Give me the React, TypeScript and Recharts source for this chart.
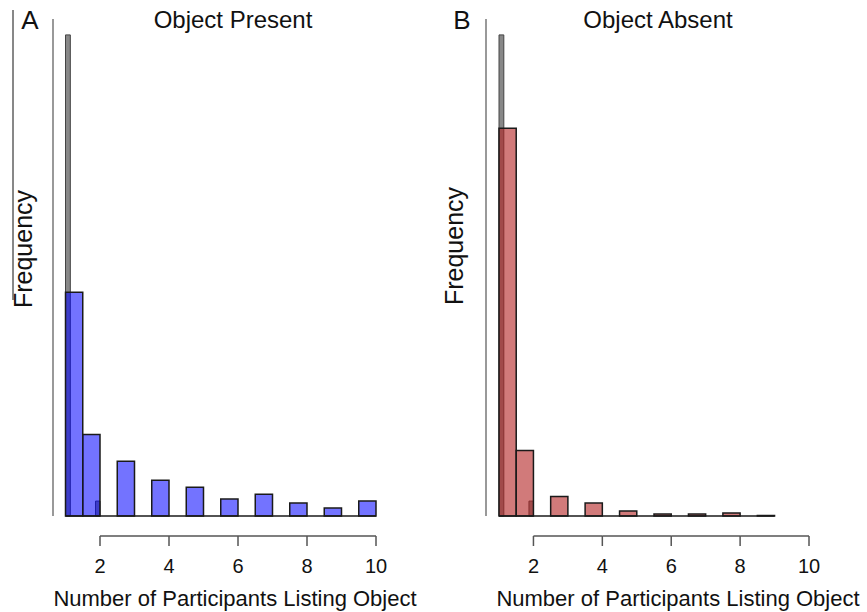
import { ComposedChart, XAxis, YAxis, ReferenceArea, ReferenceLine, Scatter } from 'recharts'

// x = number of participants listing object, y = frequency (no scale printed)
const xTicks = [2, 4, 6, 8, 10]
const yTicks = [0, 100, 200, 300, 400, 500]

// A: object present (blue)
const presentLower = [1, 1.5, 2.5, 3.5, 4.5, 5.5, 6.5, 7.5, 8.5, 9.5]
const presentUpper = [1.5, 2, 3, 4, 5, 6, 7, 8, 9, 10]
const presentFreq = [225, 82, 55, 36, 29, 17, 22, 13, 8, 15]
const presentRange = [1, 10]

// B: object absent (red)
const absentLower = [1, 1.5, 2.5, 3.5, 4.5, 5.5, 6.5, 7.5, 8.5]
const absentUpper = [1.5, 2, 3, 4, 5, 6, 7, 8, 9]
const absentFreq = [390, 66, 19.5, 13, 5, 2, 2, 3, 0.5]
const absentRange = [1, 9]

// thin grey bars drawn under both histograms
const greyLower = [1, 1.87]
const greyUpper = [1.14, 2]
const greyFreq = [484, 15]

const FONT = '"Liberation Sans", Arial, sans-serif'
const CHART_W = 433
const CHART_H = 612
const Y_W = 53
const MARGIN_R = 57
const PLOT_W = CHART_W - Y_W - MARGIN_R

interface PanelProps {
  left: number
  pad: number
  lower: number[]
  upper: number[]
  freq: number[]
  range: number[]
  fill: string
  fillOpacity: number
}

// R-style axis: line only between first and last tick, ticks pointing down
function XTick(props: any) {
  const { x, y, index, unit } = props
  const step = unit * 2
  return (
    <g>
      {index > 0 && <line x1={x - step} y1={y} x2={x} y2={y} stroke="#555" strokeWidth={1.5} />}
      <line x1={x} y1={y} x2={x} y2={y + 10} stroke="#555" strokeWidth={1.5} />
      <text x={x} y={y + 37} textAnchor="middle" fontSize={20} fontFamily={FONT} fill="#111">
        {props.payload.value}
      </text>
    </g>
  )
}

function Panel({ left, pad, lower, upper, freq, range, fill, fillOpacity }: PanelProps) {
  const unit = (PLOT_W - pad) / 9
  const rows = freq.map((v, i) => ({ mid: (lower[i] + upper[i]) / 2, freq: v }))
  return (
    <div style={{ position: 'absolute', left, top: 0 }}>
      <ComposedChart
        width={CHART_W}
        height={CHART_H}
        data={rows}
        margin={{ top: 19, right: MARGIN_R, bottom: 0, left: 0 }}
      >
        <XAxis
          xAxisId="gap"
          dataKey="mid"
          type="number"
          domain={[1, 10]}
          allowDataOverflow
          padding={{ left: pad, right: 0 }}
          height={20}
          tick={false}
          tickLine={false}
          axisLine={false}
        />
        <XAxis
          xAxisId="x"
          dataKey="mid"
          type="number"
          domain={[1, 10]}
          allowDataOverflow
          ticks={xTicks}
          interval={0}
          padding={{ left: pad, right: 0 }}
          height={76}
          axisLine={false}
          tickLine={false}
          tickSize={0}
          tickMargin={0}
          tick={(p: any) => <XTick {...p} unit={unit} />}
        />
        <YAxis
          dataKey="freq"
          type="number"
          domain={[0, 500]}
          allowDataOverflow
          ticks={yTicks}
          width={Y_W}
          tick={false}
          tickSize={3}
          axisLine={{ stroke: '#777', strokeWidth: 1.5 }}
          tickLine={{ stroke: '#777' }}
        />
        <Scatter xAxisId="x" data={rows} dataKey="freq" shape={() => <g />} isAnimationActive={false} />
        {greyFreq.map((v, i) => (
          <ReferenceArea
            key={`g-${i}`}
            xAxisId="x"
            x1={greyLower[i]}
            x2={greyUpper[i]}
            y1={0}
            y2={v}
            fill="#888"
            fillOpacity={1}
            stroke="#444"
            strokeWidth={1}
          />
        ))}
        {freq.map((v, i) => (
          <ReferenceArea
            key={`b-${i}`}
            xAxisId="x"
            x1={lower[i]}
            x2={upper[i]}
            y1={0}
            y2={v}
            fill={fill}
            fillOpacity={fillOpacity}
            stroke="#1a1a1a"
            strokeWidth={1.5}
          />
        ))}
        <ReferenceLine
          xAxisId="x"
          segment={[{ x: range[0], y: 0 }, { x: range[1], y: 0 }]}
          stroke="#1a1a1a"
          strokeWidth={1.5}
        />
      </ComposedChart>
    </div>
  )
}

export default function App() {
  return (
    <div style={{ position: 'absolute', left: 0, top: 0, width: 867, height: 612, background: '#fff', fontFamily: FONT }}>
      <Panel
        left={0}
        pad={12.5}
        lower={presentLower}
        upper={presentUpper}
        freq={presentFreq}
        range={presentRange}
        fill="#0000ff"
        fillOpacity={0.55}
      />
      <Panel
        left={433}
        pad={13}
        lower={absentLower}
        upper={absentUpper}
        freq={absentFreq}
        range={absentRange}
        fill="#b22222"
        fillOpacity={0.6}
      />
      <svg width={867} height={612} style={{ position: 'absolute', left: 0, top: 0, pointerEvents: 'none' }}>
        <line x1={13} y1={10} x2={13} y2={300} stroke="#111" strokeWidth={1} />
        <g fontFamily={FONT} fill="#111">
          <text x={30} y={29} fontSize={26} textAnchor="middle">A</text>
          <text x={233} y={28} fontSize={24} textAnchor="middle">Object Present</text>
          <text x={462} y={29} fontSize={26} textAnchor="middle">B</text>
          <text x={658} y={28} fontSize={24} textAnchor="middle">Object Absent</text>
          <text x={32} y={249} fontSize={25} textAnchor="middle" transform="rotate(-90 32 249)">Frequency</text>
          <text x={463} y={246} fontSize={25} textAnchor="middle" transform="rotate(-90 463 246)">Frequency</text>
          <text x={235} y={606} fontSize={22} textAnchor="middle">Number of Participants Listing Object</text>
          <text x={678} y={606} fontSize={22} textAnchor="middle">Number of Participants Listing Object</text>
        </g>
      </svg>
    </div>
  )
}
